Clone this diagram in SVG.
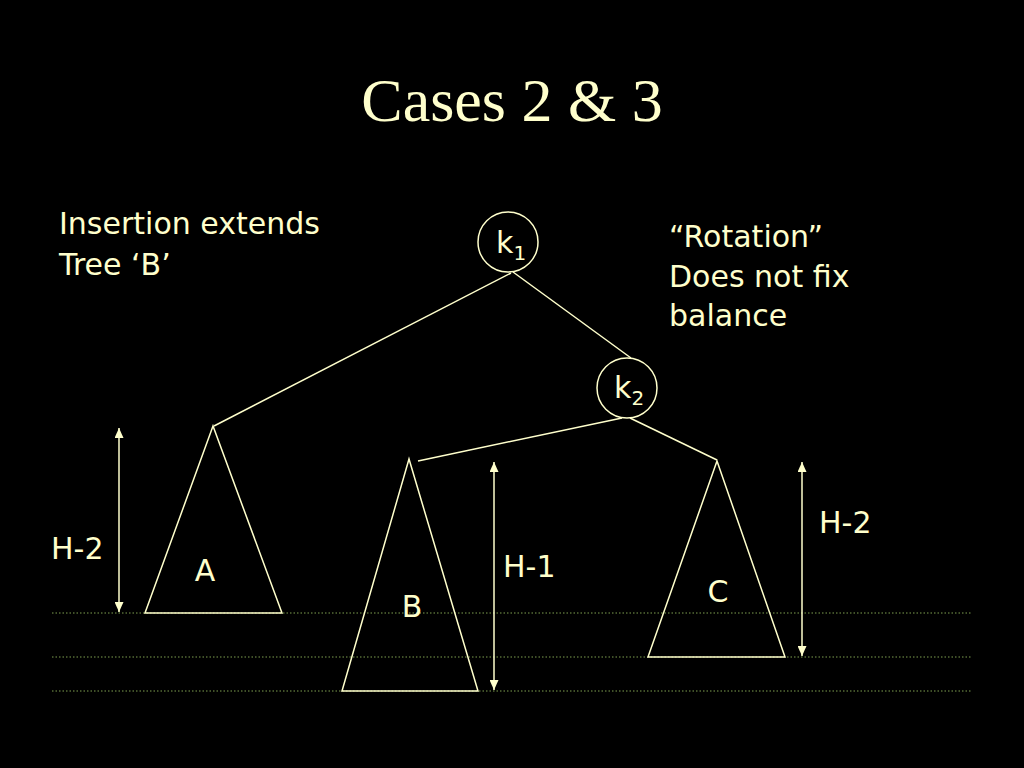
<svg xmlns="http://www.w3.org/2000/svg" width="1024" height="768" viewBox="0 0 1024 768">
<style>
.t{fill:#FFFFCC;font-family:"DejaVu Sans",Verdana,sans-serif;font-size:30px}
.ln{stroke:#FFFFCC;stroke-width:1.5;fill:none}
.dot{stroke:#7FA050;stroke-width:1;stroke-dasharray:1.5 2}
</style>
<defs>
<marker id="ah" viewBox="0 0 10 10" refX="10" refY="5" markerWidth="10" markerHeight="9" orient="auto-start-reverse" markerUnits="userSpaceOnUse" preserveAspectRatio="none"><path d="M0,0L10,5L0,10z" fill="#FFFFCC"/></marker>
</defs>
<rect width="1024" height="768" fill="#000"/>
<text x="512" y="121" text-anchor="middle" fill="#FFFFCC" font-family="'Liberation Serif','Times New Roman',serif" font-size="62">Cases 2 &amp; 3</text>
<g id="notes">
<text class="t" x="59" y="234">Insertion extends</text>
<text class="t" x="59" y="275">Tree ‘B’</text>
<text class="t" x="669" y="247">“Rotation”</text>
<text class="t" x="669" y="287">Does not fix</text>
<text class="t" x="669" y="326">balance</text>
</g>
<g id="guides">
<line class="dot" x1="52" y1="613" x2="972" y2="613"/>
<line class="dot" x1="52" y1="657" x2="972" y2="657"/>
<line class="dot" x1="52" y1="691" x2="972" y2="691"/>
</g>
<g id="connectors">
<line class="ln" x1="511" y1="273" x2="214" y2="426"/>
<line class="ln" x1="513" y1="272" x2="631" y2="358"/>
<line class="ln" x1="622" y1="418" x2="418" y2="461"/>
<line class="ln" x1="630" y1="418" x2="717" y2="460"/>
</g>
<g id="k1"><circle class="ln" cx="508" cy="242" r="30"/><text class="t" x="496" y="253">k<tspan font-size="20" dy="7">1</tspan></text></g>
<g id="k2"><circle class="ln" cx="627" cy="388" r="30"/><text class="t" x="614" y="398">k<tspan font-size="20" dy="7">2</tspan></text></g>
<g id="treeA"><polygon class="ln" points="213,426 145,613 282,613"/><text class="t" x="205" y="581" text-anchor="middle">A</text></g>
<g id="treeB"><polygon class="ln" points="409,459 342,691 478,691"/><text class="t" x="412" y="617" text-anchor="middle">B</text></g>
<g id="treeC"><polygon class="ln" points="717,461 648,657 785,657"/><text class="t" x="718" y="602" text-anchor="middle">C</text></g>
<g id="dimA"><line class="ln" x1="119" y1="428" x2="119" y2="612" marker-start="url(#ah)" marker-end="url(#ah)"/><text class="t" x="51" y="559">H-2</text></g>
<g id="dimB"><line class="ln" x1="494" y1="462" x2="494" y2="690" marker-start="url(#ah)" marker-end="url(#ah)"/><text class="t" x="503" y="577">H-1</text></g>
<g id="dimC"><line class="ln" x1="802" y1="462" x2="802" y2="656" marker-start="url(#ah)" marker-end="url(#ah)"/><text class="t" x="819" y="533">H-2</text></g>
</svg>
